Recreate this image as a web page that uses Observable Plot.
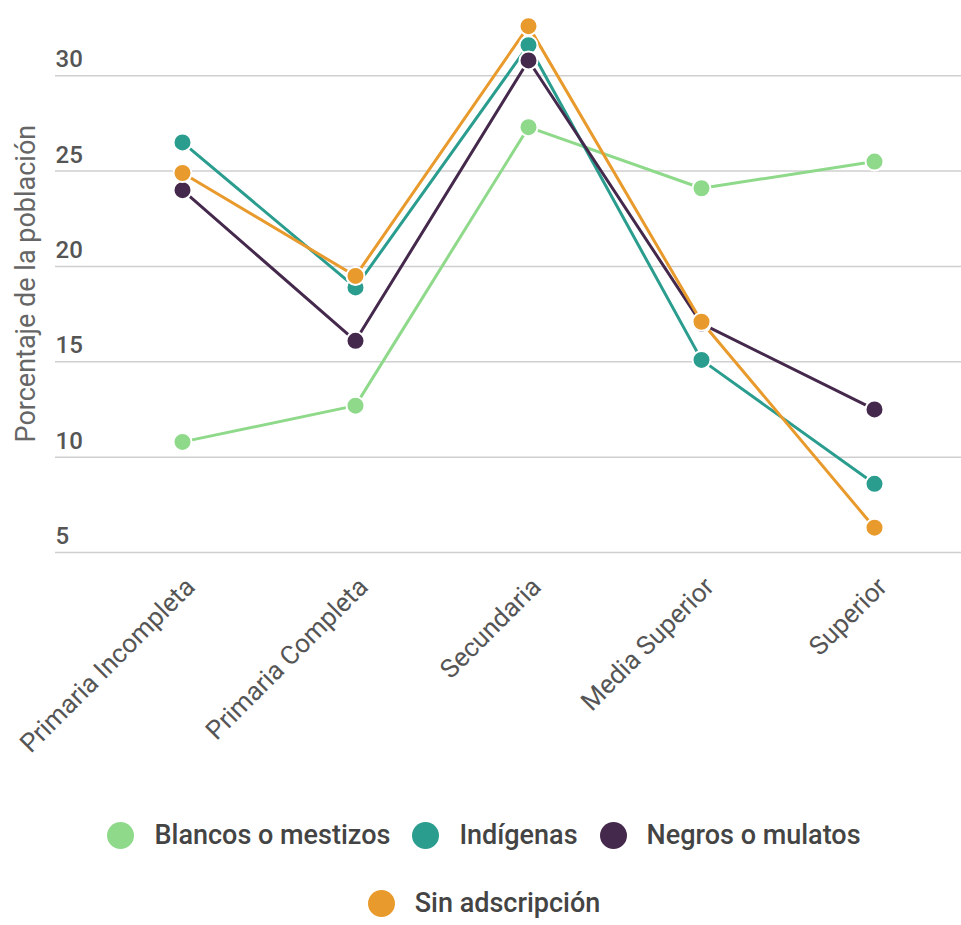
<!DOCTYPE html>
<html>
<head>
<meta charset="utf-8">
<script src="https://cdn.jsdelivr.net/npm/d3@7"></script>
<script src="https://cdn.jsdelivr.net/npm/@observablehq/plot@0.6"></script>
<style>
  html, body { margin: 0; padding: 0; background: #fff; }
  body { width: 961px; height: 925px; overflow: hidden; font-family: Roboto, "Noto Sans", sans-serif; }
  #legend { width: 760px; margin-left: 104px; display: flex; flex-wrap: wrap; justify-content: center; column-gap: 22px; row-gap: 38px; margin-top: 30px; }
  .item { display: flex; align-items: center; gap: 20px; font-size: 27px; font-weight: 500; color: #444; line-height: 30px; }
  .sw { width: 27px; height: 27px; border-radius: 50%; display: inline-block; }
</style>
</head>
<body>
<div id="chart"></div>
<div id="legend"></div>
<script>
const categories = ["Primaria Incompleta", "Primaria Completa", "Secundaria", "Media Superior", "Superior"];
const seriesNames = ["Blancos o mestizos", "Indígenas", "Negros o mulatos", "Sin adscripción"];
const blancos = [10.8, 12.7, 27.3, 24.1, 25.5];
const indigenas = [26.5, 18.9, 31.6, 15.1, 8.6];
const negros = [24.0, 16.1, 30.8, 17.0, 12.5];
const sinAdscripcion = [24.9, 19.5, 32.6, 17.1, 6.3];
const colors = ["#8fd98a", "#2a9d8f", "#45294c", "#e99a2c"];
const yTicks = [5, 10, 15, 20, 25, 30];
const yLabel = "Porcentaje de la población";

const values = [blancos, indigenas, negros, sinAdscripcion];
const data = [];
seriesNames.forEach((s, i) => categories.forEach((c, j) => data.push({serie: s, cat: c, v: values[i][j]})));

const chart = Plot.plot({
  width: 961,
  height: 790,
  marginLeft: 95,
  marginRight: 0,
  marginTop: 18,
  marginBottom: 238,
  style: {fontFamily: "Roboto, sans-serif", background: "#fff"},
  x: {type: "point", domain: categories, padding: 0.5, label: null},
  y: {domain: [5, 33], label: null},
  color: {domain: seriesNames, range: colors},
  marks: [
    Plot.ruleY(yTicks, {stroke: "#cfcfcf", strokeWidth: 1.5, insetLeft: -40}),
    Plot.text(yTicks, {y: d => d, text: d => String(d), frameAnchor: "left", textAnchor: "start", dx: -40, dy: -16, fontSize: 24, fontWeight: 500, fill: "#555"}),
    Plot.axisX({tickSize: 0, tickPadding: 30, tickRotate: -45, fontSize: 26, fill: "#555", dx: 8, label: null}),
    Plot.axisY({ticks: [], label: null}),
    Plot.text([yLabel], {frameAnchor: "left", text: d => d, rotate: -90, textAnchor: "middle", dx: -69, fontSize: 27, fill: "#666", y: () => 19.1}),
    Plot.line(data, {x: "cat", y: "v", z: "serie", stroke: "serie", strokeWidth: 3}),
    Plot.dot(data, {x: "cat", y: "v", fill: "serie", r: 9, stroke: "#fff", strokeWidth: 2})
  ]
});
document.getElementById("chart").appendChild(chart);

const legend = document.getElementById("legend");
seriesNames.forEach((s, i) => {
  const it = document.createElement("div");
  it.className = "item";
  const sw = document.createElement("span");
  sw.className = "sw";
  sw.style.background = colors[i];
  const t = document.createElement("span");
  t.textContent = s;
  it.appendChild(sw); it.appendChild(t);
  legend.appendChild(it);
});
</script>
</body>
</html>
